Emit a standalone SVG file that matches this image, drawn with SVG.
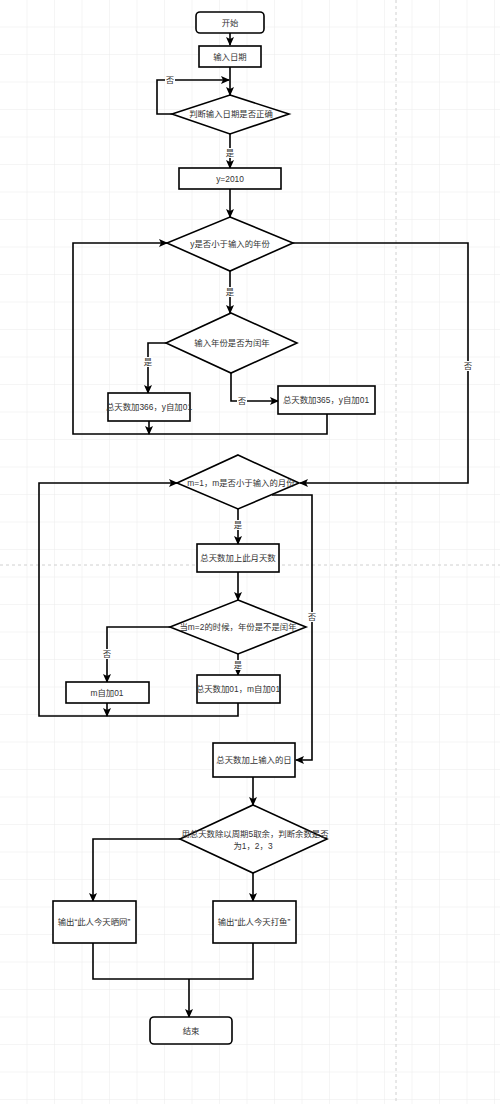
<svg xmlns="http://www.w3.org/2000/svg" width="500" height="1104" viewBox="0 0 500 1104">
<defs>
<pattern id="grid" width="27.5" height="27.5" patternUnits="userSpaceOnUse">
<path d="M27.5,0 V27.5 M0,27.5 H27.5" fill="none" stroke="#ececec" stroke-width="1"/>
</pattern>
<marker id="arr" markerWidth="10" markerHeight="10" refX="8" refY="4" orient="auto" markerUnits="userSpaceOnUse">
<path d="M0,0 L9,4 L0,8 L2,4 z" fill="#000"/>
</marker>
<style>
.n{fill:#fff;stroke:#000;stroke-width:1.6}
.t{font-family:"Liberation Sans","Noto Sans CJK SC",sans-serif;font-size:8.4px;fill:#333;text-anchor:middle;dominant-baseline:central}
.c{fill:none;stroke:#000;stroke-width:1.6}
.lb{fill:#fff}
.l{font-family:"Liberation Sans","Noto Sans CJK SC",sans-serif;font-size:8.4px;fill:#333;text-anchor:middle;dominant-baseline:central}
.pg{fill:none;stroke:#d0d0d0;stroke-width:1;stroke-dasharray:3 3}
</style>
</defs>
<rect width="500" height="1104" fill="#fff"/>
<rect width="500" height="1104" fill="url(#grid)"/>
<path class="pg" d="M396,0 V1104 M0,565 H500"/>

<g id="connectors">
<path class="c" d="M230,33 V45" marker-end="url(#arr)"/>
<path class="c" d="M230,67 V95" marker-end="url(#arr)"/>
<path class="c" d="M172,114 H157 V80 H229" marker-end="url(#arr)"/>
<path class="c" d="M230,134 V168" marker-end="url(#arr)"/>
<path class="c" d="M230,189 V217" marker-end="url(#arr)"/>
<path class="c" d="M293,243 H468 V483 H300" marker-end="url(#arr)"/>
<path class="c" d="M230,271 V313" marker-end="url(#arr)"/>
<path class="c" d="M166,343 H148 V393" marker-end="url(#arr)"/>
<path class="c" d="M231,373 V401 H278" marker-end="url(#arr)"/>
<path class="c" d="M149,421 V434" marker-end="url(#arr)"/>
<path class="c" d="M327,414 V434 H73 V243 H167" marker-end="url(#arr)"/>
<path class="c" d="M238,509 V544" marker-end="url(#arr)"/>
<path class="c" d="M238,572 V600" marker-end="url(#arr)"/>
<path class="c" d="M170,627 H107 V682" marker-end="url(#arr)"/>
<path class="c" d="M238,654 V675" marker-end="url(#arr)"/>
<path class="c" d="M107,703 V716" marker-end="url(#arr)"/>
<path class="c" d="M238,703 V716 H39 V483 H177" marker-end="url(#arr)"/>
<path class="c" d="M272,495 H312 V760 H296" marker-end="url(#arr)"/>
<path class="c" d="M253,777 V805" marker-end="url(#arr)"/>
<path class="c" d="M180,839 H93 V901" marker-end="url(#arr)"/>
<path class="c" d="M253,873 V901" marker-end="url(#arr)"/>
<path class="c" d="M93,943 V979 H253 V943"/>
<path class="c" d="M189,979 V1017" marker-end="url(#arr)"/>
<rect class="lb" x="165" y="75" width="10" height="10"/><text class="l" x="170" y="80">否</text>
<rect class="lb" x="225" y="148" width="10" height="10"/><text class="l" x="230" y="153">是</text>
<rect class="lb" x="463" y="361" width="10" height="10"/><text class="l" x="468" y="366">否</text>
<rect class="lb" x="225" y="287" width="10" height="10"/><text class="l" x="230" y="292">是</text>
<rect class="lb" x="143" y="357" width="10" height="10"/><text class="l" x="148" y="362">是</text>
<rect class="lb" x="237" y="396" width="10" height="10"/><text class="l" x="242" y="401">否</text>
<rect class="lb" x="233" y="520" width="10" height="10"/><text class="l" x="238" y="525">是</text>
<rect class="lb" x="102" y="649" width="10" height="10"/><text class="l" x="107" y="654">否</text>
<rect class="lb" x="233" y="660" width="10" height="10"/><text class="l" x="238" y="665">是</text>
<rect class="lb" x="307" y="612" width="10" height="10"/><text class="l" x="312" y="617">否</text>
</g>

<g id="start"><rect class="n" x="196" y="12" width="68" height="21" rx="4"/><text class="t" x="230" y="22.5">开始</text></g>
<g id="input-date"><rect class="n" x="199" y="46" width="62" height="21"/><text class="t" x="230" y="56.5">输入日期</text></g>
<g id="check-date"><path class="n" d="M230,95 L289,114 L230,134 L172,114 Z"/><text class="t" x="231" y="114">判断输入日期是否正确</text></g>
<g id="y2010"><rect class="n" x="179" y="168" width="102" height="21"/><text class="t" x="230" y="178.5">y=2010</text></g>
<g id="year-loop"><path class="n" d="M230,217 L293,243 L230,271 L167,243 Z"/><text class="t" x="230" y="244">y是否小于输入的年份</text></g>
<g id="leap-year"><path class="n" d="M231,313 L297,343 L231,373 L166,343 Z"/><text class="t" x="232" y="343">输入年份是否为闰年</text></g>
<g id="add366"><rect class="n" x="108" y="393" width="82" height="28"/><text class="t" x="149" y="407">总天数加366，y自加01</text></g>
<g id="add365"><rect class="n" x="278" y="386" width="97" height="28"/><text class="t" x="326" y="400">总天数加365，y自加01</text></g>
<g id="month-loop"><path class="n" d="M238,455 L299,483 L238,509 L177,483 Z"/><text class="t" x="241" y="483">m=1，m是否小于输入的月份</text></g>
<g id="add-month"><rect class="n" x="197" y="544" width="82" height="28"/><text class="t" x="238" y="558">总天数加上此月天数</text></g>
<g id="feb-leap"><path class="n" d="M238,600 L306,627 L238,654 L170,627 Z"/><text class="t" x="238" y="627">当m=2的时候，年份是不是闰年</text></g>
<g id="m-inc"><rect class="n" x="66" y="682" width="83" height="21"/><text class="t" x="107" y="692.5">m自加01</text></g>
<g id="add01"><rect class="n" x="197" y="675" width="83" height="28"/><text class="t" x="238" y="689">总天数加01，m自加01</text></g>
<g id="add-day"><rect class="n" x="213" y="743" width="82" height="34"/><text class="t" x="254" y="760">总天数加上输入的日</text></g>
<g id="mod5"><path class="n" d="M253,805 L327,839 L253,873 L180,839 Z"/><text class="t" x="255" y="834">用总天数除以周期5取余，判断余数是否</text><text class="t" x="253" y="846">为1，2，3</text></g>
<g id="out-net"><rect class="n" x="53" y="901" width="83" height="42"/><text class="t" x="94" y="922">输出“此人今天晒网”</text></g>
<g id="out-fish"><rect class="n" x="213" y="901" width="83" height="42"/><text class="t" x="254" y="922">输出“此人今天打鱼”</text></g>
<g id="end"><rect class="n" x="150" y="1017" width="82" height="27" rx="4"/><text class="t" x="191" y="1030.5">结束</text></g>
</svg>
